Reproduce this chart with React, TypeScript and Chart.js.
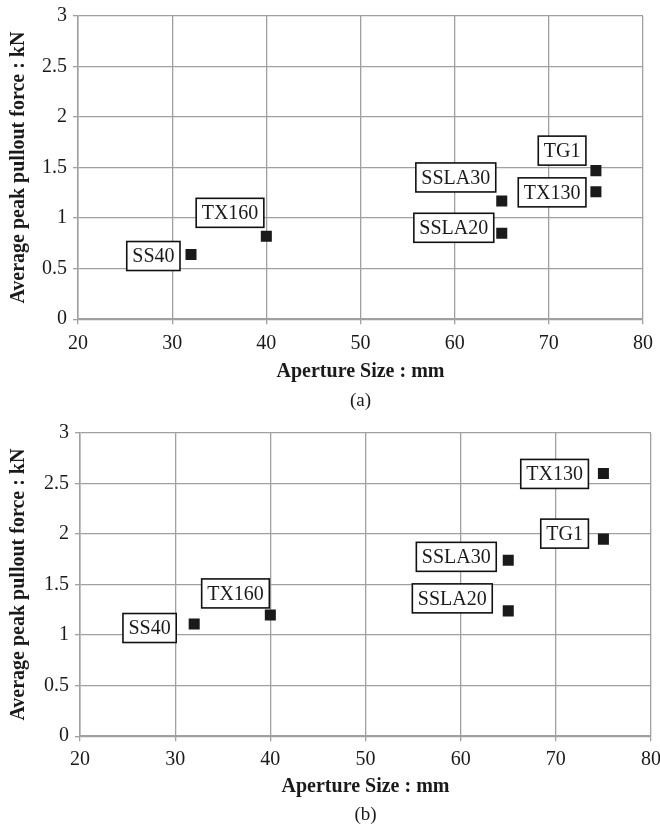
import React, { useEffect, useRef } from "react";
import { Chart, registerables } from "chart.js";

Chart.register(...registerables);

// ---- data ----
const geogridNames = ["SS40", "TX160", "SSLA30", "SSLA20", "TG1", "TX130"];
const apertureSize = [32, 40, 65, 65, 75, 75];
const pulloutA = [0.64, 0.82, 1.17, 0.85, 1.47, 1.26];
const pulloutB = [1.11, 1.2, 1.74, 1.24, 1.95, 2.6];
const xTickMin = 20;
const xTickMax = 80;
const yTickMin = 0;
const yTickMax = 3;
const xTitle = "Aperture Size : mm";
const yTitle = "Average peak pullout force : kN";

// label placement (styling): [box right edge dx from point, box centre dy from point]
const labelOffsetsA = [
  [-11, 1.5],
  [-2.5, -23.5],
  [-6, -23.5],
  [-8, -5.5],
  [-10, -20],
  [-10, 0.5],
];
const labelOffsetsB = [
  [-18, 4],
  [-1, -21.5],
  [-12, -3.5],
  [-16, -12.5],
  [-15, -5.5],
  [-15, 0.5],
];

const FONT = "'Liberation Serif', 'Times New Roman', serif";
const GRID = "#a0a0a0";

type PanelProps = {
  values: number[];
  offsets: number[][];
  caption: string;
  height: number;
  top: number;
  yAxisWidth: number;
  rightPad: number;
  xAxisHeight: number;
  xTitlePad: number;
  xTickPad: number;
};

const labelPlugin = (offsets: number[][]) => ({
  id: "boxLabels",
  afterDatasetsDraw(chart: any) {
    const ctx = chart.ctx;
    const meta = chart.getDatasetMeta(0);
    ctx.save();
    ctx.font = `20px ${FONT}`;
    ctx.textBaseline = "middle";
    ctx.textAlign = "center";
    meta.data.forEach((pt: any, i: number) => {
      const text = geogridNames[i];
      const [dx, dy] = offsets[i];
      const w = ctx.measureText(text).width + 11;
      const h = 29;
      const right = pt.x + dx;
      const cy = pt.y + dy;
      const left = right - w;
      ctx.fillStyle = "#ffffff";
      ctx.fillRect(left, cy - h / 2, w, h);
      ctx.lineWidth = 1.6;
      ctx.strokeStyle = "#111";
      ctx.strokeRect(left, cy - h / 2, w, h);
      ctx.fillStyle = "#1a1a1a";
      ctx.fillText(text, left + w / 2, cy + 1);
    });
    ctx.restore();
  },
});

function Panel(p: PanelProps) {
  const ref = useRef<HTMLCanvasElement>(null);
  useEffect(() => {
    if (!ref.current) return;
    const chart = new Chart(ref.current, {
      type: "scatter",
      data: {
        datasets: [
          {
            data: apertureSize.map((x, i) => ({ x, y: p.values[i] })),
            pointStyle: "rect",
            pointRadius: 7.8,
            pointHoverRadius: 7.8,
            backgroundColor: "#1a1a1a",
            borderColor: "#1a1a1a",
            borderWidth: 0,
          },
        ],
      },
      options: {
        animation: false,
        responsive: false,
        devicePixelRatio: 1,
        layout: { padding: { top: p.top, right: p.rightPad, left: 0, bottom: 0 } },
        plugins: {
          legend: { display: false },
          tooltip: { enabled: false },
          title: {
            display: true,
            position: "bottom",
            text: p.caption,
            fullSize: false,
            color: "#1a1a1a",
            font: { family: FONT, size: 19, weight: "normal" },
            padding: 0,
          },
        },
        scales: {
          x: {
            type: "linear",
            min: xTickMin,
            max: xTickMax,
            ticks: {
              stepSize: 10,
              color: "#1a1a1a",
              font: { family: FONT, size: 20 },
              padding: p.xTickPad,
              maxRotation: 0,
            },
            grid: { color: GRID, lineWidth: 1.3, tickLength: 5, tickColor: GRID },
            border: { color: GRID, width: 1.5 },
            title: {
              display: true,
              text: xTitle,
              color: "#1a1a1a",
              font: { family: FONT, size: 20, weight: "bold" },
              padding: { top: 0, bottom: p.xTitlePad },
            },
            afterFit: (s: any) => {
              s.height = p.xAxisHeight;
              s.paddingLeft = 0;
              s.paddingRight = 0;
            },
          },
          y: {
            type: "linear",
            min: yTickMin,
            max: yTickMax,
            ticks: {
              stepSize: 0.5,
              color: "#1a1a1a",
              font: { family: FONT, size: 20 },
              padding: 6,
              callback: (v: any) => String(Number(v)),
            },
            grid: { color: GRID, lineWidth: 1.3, tickLength: 5, tickColor: GRID },
            border: { color: GRID, width: 1.5 },
            title: {
              display: true,
              text: yTitle,
              color: "#1a1a1a",
              font: { family: FONT, size: 20, weight: "bold" },
              padding: { top: 7, bottom: 0 },
            },
            afterFit: (s: any) => {
              s.width = p.yAxisWidth;
              s.paddingTop = 0;
              s.paddingBottom = 0;
            },
          },
        },
      },
      plugins: [labelPlugin(p.offsets)],
    } as any);
    return () => chart.destroy();
  }, []);
  return (
    <canvas
      ref={ref}
      width={660}
      height={p.height}
      style={{ display: "block", width: 660, height: p.height }}
    />
  );
}

export default function App() {
  return (
    <div style={{ position: "absolute", left: 0, top: 0, width: 660, height: 826, background: "#fff" }}>
      <Panel
        values={pulloutA}
        offsets={labelOffsetsA}
        caption="(a)"
        height={412}
        top={16}
        yAxisWidth={78}
        rightPad={17}
        xAxisHeight={70}
        xTitlePad={5}
        xTickPad={8}
      />
      <Panel
        values={pulloutB}
        offsets={labelOffsetsB}
        caption="(b)"
        height={414}
        top={21}
        yAxisWidth={80}
        rightPad={9}
        xAxisHeight={67}
        xTitlePad={4}
        xTickPad={7}
      />
    </div>
  );
}
